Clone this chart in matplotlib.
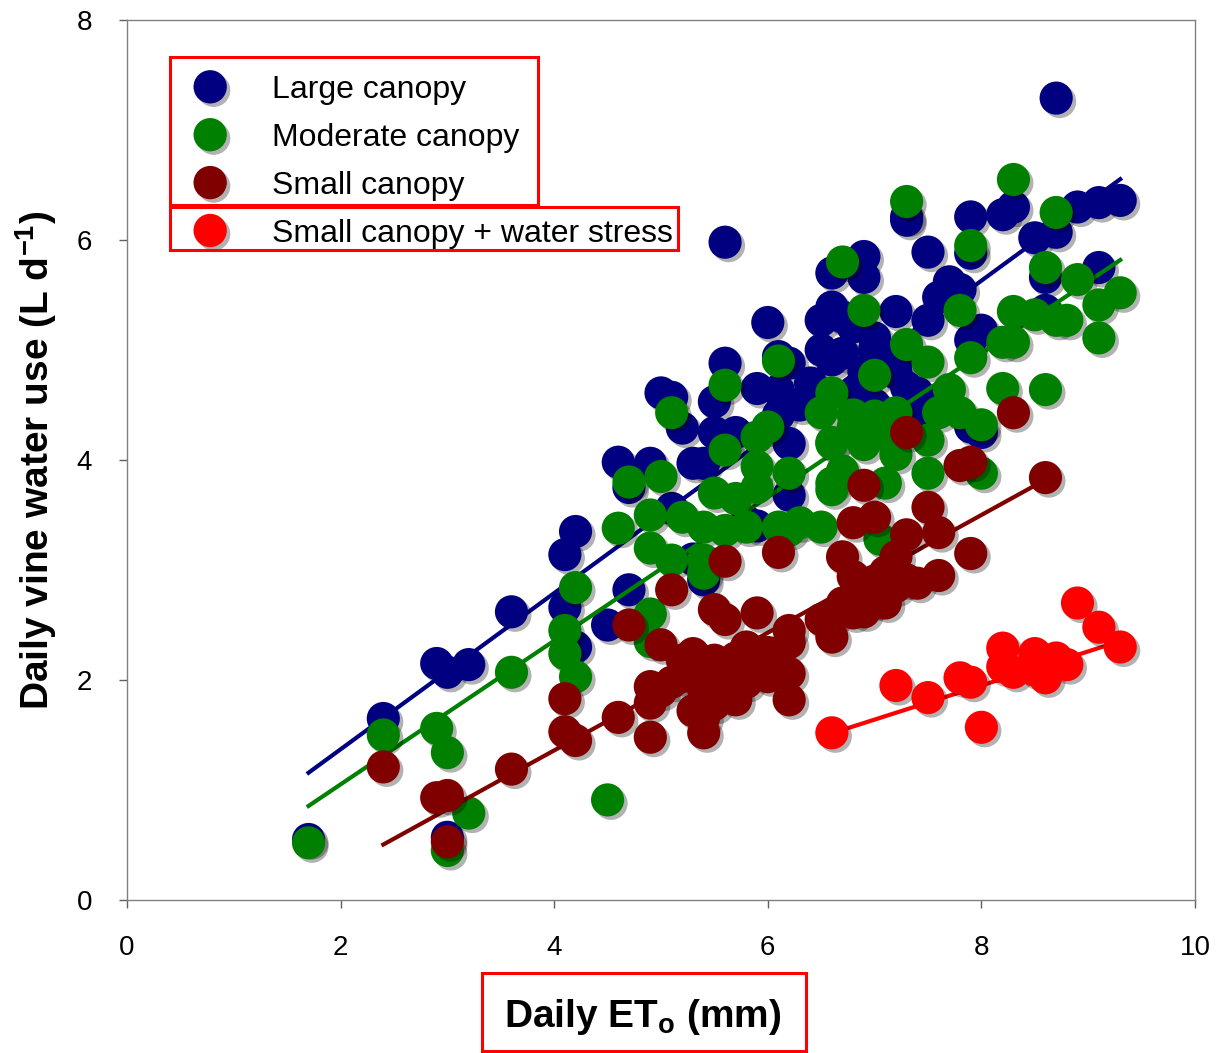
import numpy as np
import matplotlib
matplotlib.use("Agg")
import matplotlib.pyplot as plt
import matplotlib.patheffects as pe
from matplotlib.lines import Line2D
from matplotlib.patches import Rectangle

plt.rcParams["font.family"] = ["Liberation Sans", "DejaVu Sans"]
plt.rcParams["mathtext.fontset"] = "custom"
plt.rcParams["mathtext.rm"] = "Liberation Sans"
plt.rcParams["mathtext.bf"] = "Liberation Sans:bold"

# Large canopy
large_x = [1.7, 2.4, 2.9, 3.0, 3.2, 3.6, 4.1, 4.2, 4.1, 4.2, 4.5, 4.7, 4.6, 4.7, 4.9,
           5.0, 5.1, 5.2, 5.3, 5.4, 5.5, 5.5, 5.6, 5.6, 5.7, 5.8, 5.9, 6.0, 6.1, 6.1,
           6.1, 6.2, 6.2, 5.1, 5.4, 5.3, 6.2, 5.9, 6.5, 6.6, 6.5, 6.6, 6.7, 6.8, 6.9,
           6.9, 7.0, 7.0, 6.6, 6.7, 7.2, 7.2, 7.2, 7.3, 7.4, 7.3, 7.3, 7.5, 7.5, 7.6,
           7.7, 7.8, 7.9, 7.9, 8.0, 7.9, 7.9, 8.0, 8.2, 8.3, 8.5, 8.6, 8.6, 8.7, 8.7,
           8.9, 9.1, 9.1, 9.3, 6.3, 6.4, 7.0, 7.1, 6.8, 6.9, 7.4, 7.6, 3.0]
large_y = [0.55, 1.65, 2.15, 2.07, 2.14, 2.62, 3.14, 3.35, 2.66, 2.30, 2.50, 2.82, 3.98, 3.75, 3.97,
           4.61, 4.57, 4.29, 3.97, 3.97, 4.53, 4.25, 4.88, 5.98, 4.25, 3.44, 4.65, 5.25, 4.94, 4.63,
           4.41, 4.88, 4.15, 3.56, 2.91, 3.10, 3.68, 3.40, 5.27, 5.39, 5.00, 5.70, 5.30, 5.21, 5.85,
           5.66, 5.11, 5.00, 4.91, 4.97, 5.35, 4.88, 4.79, 4.66, 4.61, 6.18, 6.21, 5.89, 5.27, 5.48,
           5.62, 5.55, 6.21, 5.88, 5.18, 5.09, 4.30, 4.25, 6.23, 6.30, 6.02, 5.66, 5.36, 6.07, 7.29,
           6.30, 6.34, 5.75, 6.36, 4.50, 4.70, 4.50, 4.40, 4.60, 4.80, 4.40, 4.50, 0.57]

# Moderate canopy
moderate_x = [1.7, 2.4, 2.9, 3.0, 3.0, 3.2, 3.6, 4.1, 4.1, 4.2, 4.2, 4.5, 4.6, 4.7, 4.9,
              4.9, 5.0, 5.1, 5.2, 5.1, 5.4, 5.4, 5.4, 5.6, 5.6, 5.5, 5.7, 5.6, 5.8, 5.9,
              6.0, 5.9, 5.9, 6.1, 6.2, 6.1, 6.2, 6.3, 6.5, 6.6, 6.6, 6.5, 4.9, 4.9, 6.7,
              6.9, 7.0, 6.6, 6.8, 7.2, 7.6, 7.8, 8.0, 6.6, 6.9, 7.1, 7.5, 7.2, 7.5, 6.6,
              7.1, 8.0, 7.3, 7.5, 7.9, 7.7, 8.2, 8.6, 7.8, 7.9, 7.3, 8.3, 8.7, 8.3, 8.2,
              8.3, 8.5, 8.6, 8.7, 8.8, 8.9, 9.1, 9.1, 9.3, 6.7, 6.8, 7.0, 7.05]
moderate_y = [0.52, 1.50, 1.56, 1.34, 0.45, 0.79, 2.07, 2.45, 2.24, 2.03, 2.84, 0.91, 3.38, 3.80, 3.50,
              3.20, 3.85, 4.43, 3.48, 3.09, 3.39, 3.09, 2.97, 4.68, 4.09, 3.70, 3.65, 3.36, 3.39, 4.21,
              4.30, 3.94, 3.75, 4.90, 3.88, 3.39, 3.36, 3.43, 4.43, 4.15, 3.73, 3.39, 2.60, 2.35, 5.80,
              5.36, 4.77, 4.61, 4.41, 4.43, 4.43, 4.43, 4.32, 4.16, 4.14, 4.23, 4.18, 4.05, 3.88, 3.79,
              3.79, 3.88, 5.05, 4.89, 4.93, 4.64, 4.65, 4.64, 5.36, 5.95, 6.35, 6.55, 6.25, 5.35, 5.07,
              5.07, 5.32, 5.75, 5.27, 5.27, 5.64, 5.41, 5.11, 5.52, 3.90, 4.30, 4.40, 3.28]

# Small canopy
small_x = [2.4, 2.9, 3.0, 3.0, 3.6, 4.1, 4.1, 4.2, 4.6, 4.7, 4.9, 4.9, 4.9, 5.0, 5.1,
           5.2, 5.3, 5.4, 5.4, 5.4, 5.5, 5.5, 5.6, 5.6, 5.7, 5.7, 5.9, 5.9, 5.9, 6.0,
           6.1, 6.2, 6.2, 6.2, 6.6, 6.6, 6.7, 6.8, 6.8, 6.8, 6.9, 7.0, 7.1, 7.2, 7.2,
           7.3, 7.3, 7.3, 7.5, 7.6, 7.6, 7.8, 7.9, 7.9, 8.3, 8.6, 5.3, 5.5, 5.6, 5.7,
           5.8, 5.8, 6.0, 6.1, 6.2, 5.0, 5.1, 5.3, 5.5, 5.2, 5.8, 6.5, 6.7, 6.9, 7.0,
           7.1, 6.8, 6.9, 7.0, 7.4]
small_y = [1.21, 0.93, 0.95, 0.53, 1.19, 1.83, 1.53, 1.45, 1.66, 2.50, 1.94, 1.79, 1.48, 2.32, 2.82,
           2.03, 2.24, 1.91, 1.66, 1.52, 2.64, 2.18, 2.55, 3.08, 2.03, 1.82, 2.61, 2.18, 2.09, 2.03,
           3.16, 2.34, 2.06, 1.82, 2.39, 2.57, 3.12, 2.61, 2.94, 3.43, 3.77, 3.48, 2.70, 2.85, 3.12,
           2.91, 3.32, 4.25, 3.57, 3.34, 2.95, 3.95, 3.98, 3.15, 4.43, 3.84, 2.10, 2.00, 1.90, 2.20,
           2.15, 1.98, 2.25, 2.10, 2.45, 1.90, 1.98, 1.72, 1.78, 2.18, 2.30, 2.55, 2.70, 2.80, 2.90,
           2.98, 2.75, 2.62, 2.72, 2.88]

# Small canopy + water stress
stress_x = [6.6, 7.2, 7.5, 7.8, 7.9, 8.0, 8.2, 8.2, 8.3, 8.5, 8.5, 8.6, 8.7, 8.8, 8.9, 9.1, 9.3]
stress_y = [1.52, 1.95, 1.84, 2.02, 1.98, 1.57, 2.29, 2.12, 2.07, 2.24, 2.09, 2.02, 2.20, 2.14, 2.70, 2.48, 2.30]

labels = ["Large canopy", "Moderate canopy", "Small canopy", "Small canopy + water stress"]
colors = ["#000080", "#008000", "#800000", "#FF0000"]
# regression lines: slope, intercept
slopes = [0.71, 0.653, 0.535, 0.31]
intercepts = [-0.05, -0.255, -0.78, -0.53]

series = [(large_x, large_y), (moderate_x, moderate_y), (small_x, small_y), (stress_x, stress_y)]

fig = plt.figure(figsize=(12.21, 10.53), dpi=100)
ax = fig.add_axes([0.1040, 0.1453, 0.8747, 0.8357])

shadow = [pe.SimplePatchShadow(offset=(2.5, -2.5), shadow_rgbFace="k", alpha=0.3), pe.Normal()]

for i, (xs, ys) in enumerate(series):
    xs = np.array(xs)
    xx = np.array([xs.min(), xs.max()])
    ax.plot(xx, slopes[i] * xx + intercepts[i], color=colors[i], lw=3, zorder=2 + 2 * i)
    ax.scatter(xs, ys, s=570, color=colors[i], edgecolors="none", zorder=3 + 2 * i,
               path_effects=shadow)

ax.set_xlim(0, 10)
ax.set_ylim(0, 8)
ax.set_xticks(range(0, 11, 2))
ax.set_yticks(range(0, 9, 2))
for s in ax.spines.values():
    s.set_color("#808080")
    s.set_linewidth(1)
ax.tick_params(direction="out", length=6, width=1, color="#606060", labelsize=20, pad=19,
               top=False, right=False)

ax.set_xlabel(r"Daily ET$_{\mathbf{o}}$ (mm)", fontsize=28, fontweight="bold")
ax.xaxis.set_label_coords(0.483, -0.110)
ax.set_ylabel(r"Daily vine water use (L d$^{\mathbf{-1}}$)", fontsize=28, fontweight="bold")
ax.yaxis.set_label_coords(-0.064, 0.5)

handles = [Line2D([], [], marker="o", ls="", markersize=24, color=c, markeredgewidth=0,
                  path_effects=shadow) for c in colors]
ax.legend(handles, labels, loc="upper left", bbox_to_anchor=(191 / 1221, 1 - 75 / 1053),
          bbox_transform=fig.transFigure, frameon=False, fontsize=23, borderpad=0,
          borderaxespad=0, handlelength=1.2, handletextpad=1.35, labelspacing=0.56)

# red frames around the legend and the x label (pixel extents)
boxes = [(170, 57, 538, 205), (170, 207, 678, 250), (482, 973, 806, 1051)]
for x0, y0, x1, y1 in boxes:
    fig.add_artist(Rectangle((x0 / 1221, 1 - y1 / 1053), (x1 - x0) / 1221, (y1 - y0) / 1053,
                             transform=fig.transFigure, fill=False, edgecolor="#FF0000",
                             linewidth=2.2))

fig.savefig("out.png", dpi=100)
